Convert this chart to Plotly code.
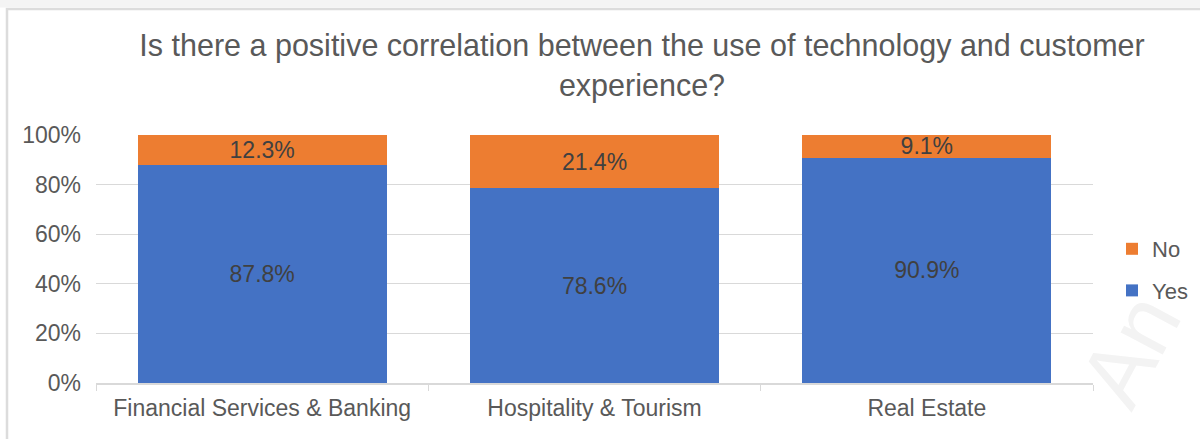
import plotly.graph_objects as go

# Survey answers by industry (share of respondents, %)
categories = ["Financial Services & Banking", "Hospitality & Tourism", "Real Estate"]
yes_pct = [87.8, 78.6, 90.9]
no_pct = [12.3, 21.4, 9.1]
y_ticks = [0, 20, 40, 60, 80, 100]
y_tick_labels = ["0%", "20%", "40%", "60%", "80%", "100%"]

W, H = 1200, 439
M_L, M_R, M_T, M_B = 96, 107, 135, 56
PW, PH = W - M_L - M_R, H - M_T - M_B

FONT = "Liberation Sans, Arial, Helvetica, sans-serif"
LABEL_COLOR = "#404040"
AXIS_TEXT = "#595959"
TXT = 23

fig = go.Figure()
fig.add_trace(go.Bar(
    name="Yes", x=categories, y=yes_pct, legendgroup="yes", legendrank=2,
    marker=dict(color="#4472C4", line=dict(width=0)),
    text=[f"{v:.1f}%" for v in yes_pct], textposition="inside",
    insidetextanchor="middle", textangle=0, constraintext="none",
    textfont=dict(size=TXT, color=LABEL_COLOR, family=FONT),
    hoverinfo="skip",
))
fig.add_trace(go.Bar(
    name="No", x=categories, y=no_pct, legendgroup="no", legendrank=1,
    marker=dict(color="#ED7D31", line=dict(width=0)),
    text=[f"{v:.1f}%" for v in no_pct], textposition="inside",
    insidetextanchor="middle", textangle=0, constraintext="none",
    textfont=dict(size=TXT, color=LABEL_COLOR, family=FONT),
    hoverinfo="skip",
))


def px_x(p):
    return (p - M_L) / PW


def px_y(p):
    return (H - M_B - p) / PH


shapes = [
    # light frame around the chart card
    dict(type="rect", xref="paper", yref="paper",
         x0=px_x(7), x1=px_x(W + 20), y0=px_y(9), y1=px_y(H + 20),
         line=dict(color="#dcdcdc", width=2.5), layer="below"),
    # soft band above the card
    dict(type="rect", xref="paper", yref="paper",
         x0=px_x(-5), x1=px_x(W + 5), y0=px_y(-5), y1=px_y(7.5),
         line=dict(width=0), fillcolor="#f4f4f4", layer="below"),
]

fig.update_layout(
    width=W, height=H,
    barmode="stack", bargap=0.25,
    margin=dict(l=M_L, r=M_R, t=M_T, b=M_B, autoexpand=False),
    paper_bgcolor="white", plot_bgcolor="white",
    font=dict(family=FONT, color=AXIS_TEXT),
    title=dict(
        text="Is there a positive correlation between the use of technology and customer<br>experience?",
        x=642 / W, xanchor="center", y=1 - 56 / H, yanchor="middle",
        font=dict(size=30.5, color=AXIS_TEXT, family=FONT),
    ),
    showlegend=True,
    legend=dict(
        traceorder="grouped", tracegroupgap=10,
        x=px_x(1112), xanchor="left",
        y=px_y(228), yanchor="top", font=dict(size=TXT - 1, color=AXIS_TEXT),
        itemwidth=30, bgcolor="rgba(0,0,0,0)",
    ),
    xaxis=dict(
        showline=True, linecolor="#d9d9d9", linewidth=1.5,
        ticks="outside", tickson="boundaries", ticklen=6, tickcolor="#d9d9d9",
        tickfont=dict(size=TXT, color=AXIS_TEXT), showgrid=False,
        ticklabelstandoff=4,
    ),
    yaxis=dict(
        range=[0, 100], tickvals=y_ticks, ticktext=y_tick_labels,
        showgrid=True, gridcolor="#d9d9d9", gridwidth=1.2,
        zeroline=False, showline=False, ticks="",
        tickfont=dict(size=TXT, color=AXIS_TEXT), ticklabelstandoff=14,
    ),
    shapes=shapes,
    annotations=[
        dict(text="An", xref="paper", yref="paper", x=px_x(1130), y=px_y(350),
             showarrow=False, textangle=-62, font=dict(size=90, color="#f3f3f3"),
             xanchor="center", yanchor="middle"),
    ],
)

fig.write_html("out.html")
